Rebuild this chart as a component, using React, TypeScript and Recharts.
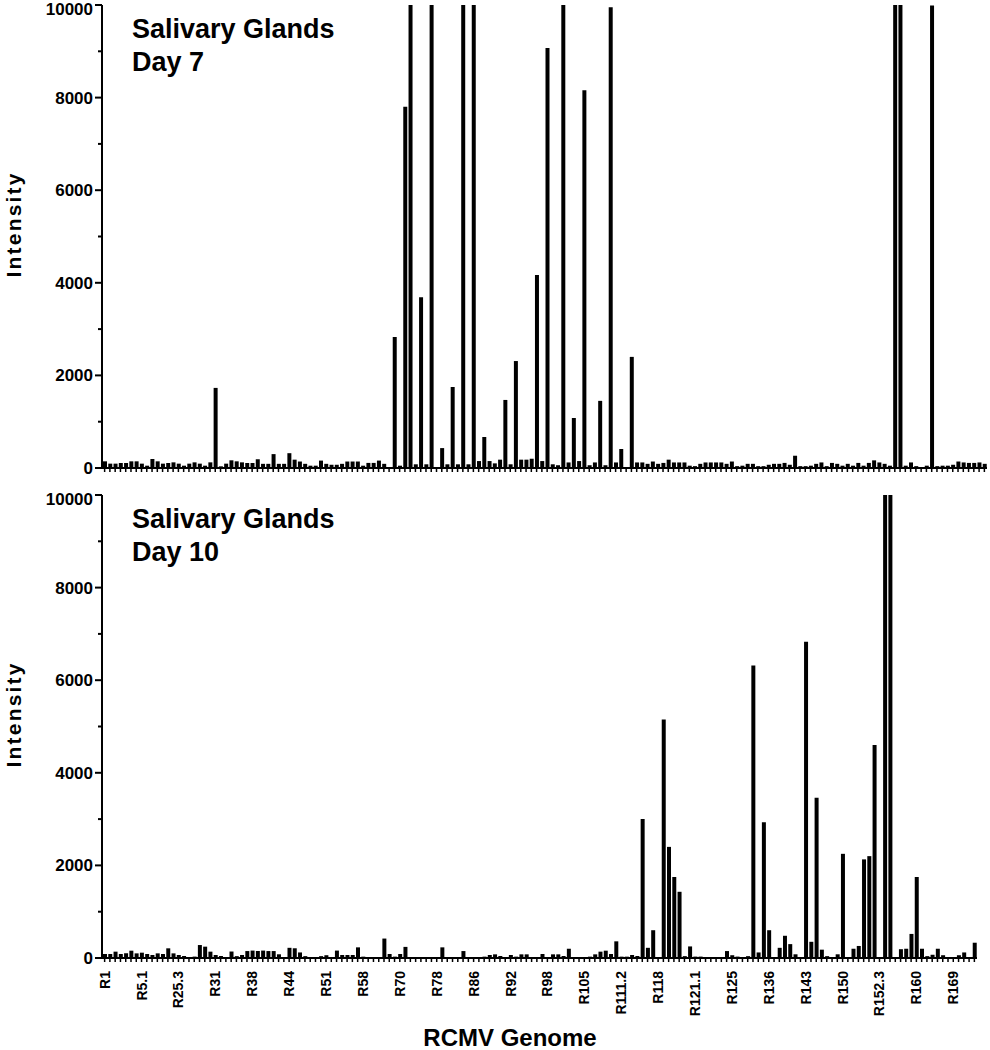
import { Bar, BarChart, XAxis, YAxis } from "recharts";

const FONT = "'Liberation Sans', Arial, Helvetica, sans-serif";

// one label every 7th ORF along the genome
const genomeLabels = [
  "R1", "R5.1", "R25.3", "R31", "R38", "R44", "R51", "R58", "R70", "R78", "R86", "R92",
  "R98", "R105", "R111.2", "R118", "R121.1", "R125", "R136", "R143", "R150", "R152.3", "R160", "R169",
];
const LABEL_STEP = 7;

const yTicks = [0, 1000, 2000, 3000, 4000, 5000, 6000, 7000, 8000, 9000, 10000];

const day7 = [
  144, 94, 94, 108, 108, 144, 144, 94, 50, 195,
  144, 94, 108, 122, 94, 50, 94, 122, 94, 50,
  122, 1730, 36, 94, 166, 144, 122, 108, 108, 190,
  90, 90, 300, 90, 90, 320, 180, 140, 90, 50,
  50, 160, 90, 70, 70, 90, 140, 140, 140, 50,
  110, 110, 160, 90, 20, 2830, 50, 7800, 10000, 80,
  3690, 80, 10000, 20, 430, 80, 1750, 80, 10000, 80,
  10000, 150, 670, 150, 100, 180, 1470, 80, 2310, 180,
  180, 200, 4170, 150, 9070, 80, 60, 10000, 120, 1080,
  150, 8160, 60, 120, 1450, 60, 9950, 120, 410, -100,
  2400, 120, 120, 90, 140, 90, 110, 180, 120, 120,
  120, 50, 40, 90, 120, 120, 120, 120, 90, 140,
  40, 50, 90, 90, 40, 40, 70, 90, 90, 110,
  70, 265, 40, 40, 50, 90, 120, 40, 110, 90,
  50, 90, 50, 110, 50, 110, 165, 120, 90, 50,
  10000, 10000, 50, 120, 40, 10, 50, 9990, 40, 50,
  50, 70, 140, 120, 110, 110, 120, 90,
];

const day10 = [
  86, 86, 137, 86, 100, 158, 100, 115, 86, 65,
  100, 86, 209, 100, 65, 43, 15, 30, 280, 245,
  137, 65, 43, 15, 140, 40, 65, 150, 160, 150,
  160, 150, 150, 80, 20, 220, 210, 120, 40, 10,
  20, 40, 60, 20, 160, 65, 65, 65, 230, 29,
  0, 14, 0, 420, 86, 29, 86, 240, 14, 0,
  0, 0, 0, 0, 230, 14, 0, 0, 150, 14,
  0, 14, 29, 65, 79, 43, 0, 65, 29, 79,
  79, 0, 0, 86, 0, 79, 79, 43, 200, 0,
  0, 14, 29, 79, 137, 158, 86, 360, 29, 29,
  65, 43, 3000, 220, 600, 10, 5150, 2400, 1750, 1430,
  40, 250, 30, 30, 5, 5, 5, 5, 150, 60,
  30, 20, 40, 6320, 120, 2930, 600, 10, 220, 480,
  300, 80, 0, 6830, 350, 3460, 180, 40, 20, 80,
  2250, 0, 200, 260, 2130, 2200, 4600, 0, 10000, 10000,
  0, 190, 200, 520, 1750, 200, 40, 70, 200, 60,
  0, 0, 60, 120, 0, 330,
];

const toRows = (values: number[]) => values.map((v, i) => ({ i, v }));

function YTick({ x, y, payload }: any) {
  const v = payload.value as number;
  const major = v % 2000 === 0;
  return (
    <g>
      <line x1={x - (major ? 7 : 4)} x2={x} y1={y} y2={y} stroke="#000" strokeWidth={2} />
      {major && (
        <text
          x={x - 9}
          y={y}
          dy={v === 10000 ? 10 : 6}
          textAnchor="end"
          fontSize={17}
          fontWeight="bold"
          fill="#000"
          fontFamily={FONT}
        >
          {v}
        </text>
      )}
    </g>
  );
}

const makeXTick = (showLabels: boolean) =>
  function XTick({ x, y, payload }: any) {
    const i = Number(payload.value);
    const label = i % LABEL_STEP === 0 ? genomeLabels[i / LABEL_STEP] : null;
    return (
      <g>
        <line x1={x} x2={x} y1={y} y2={y + 4} stroke="#000" strokeWidth={1.5} />
        {showLabels && label && (
          <text
            transform={`translate(${x},${y + 13}) rotate(-90)`}
            textAnchor="end"
            dominantBaseline="central"
            fontSize={14}
            fontWeight="bold"
            fill="#000"
            fontFamily={FONT}
          >
            {label}
          </text>
        )}
      </g>
    );
  };

function Panel({
  values,
  rightGap,
  height,
  xHeight,
  showLabels,
}: {
  values: number[];
  rightGap: number;
  height: number;
  xHeight: number;
  showLabels: boolean;
}) {
  return (
    <BarChart
      width={990}
      height={height}
      data={toRows(values)}
      margin={{ top: 5, right: rightGap, left: 0, bottom: 0 }}
      barSize={4}
    >
      <XAxis
        dataKey="i"
        type="category"
        interval={0}
        height={xHeight}
        tickSize={0}
        tickMargin={0}
        tickLine={false}
        axisLine={{ stroke: "#000", strokeWidth: 2 }}
        tick={makeXTick(showLabels)}
      />
      <YAxis
        type="number"
        domain={[0, 10000]}
        allowDataOverflow
        ticks={yTicks}
        interval={0}
        width={102}
        tickSize={0}
        tickMargin={0}
        tickLine={false}
        axisLine={{ stroke: "#000", strokeWidth: 2 }}
        tick={YTick}
        label={{
          content: ({ viewBox }: any) => (
            <text
              transform={`translate(21,${viewBox.y + viewBox.height / 2 - 11}) rotate(-90)`}
              textAnchor="middle"
              fontSize={21}
              fontWeight="bold"
              fill="#000"
              fontFamily={FONT}
              textLength={104}
              lengthAdjust="spacing"
            >
              Intensity
            </text>
          ),
        }}
      />
      <Bar dataKey="v" fill="#000" isAnimationActive={false} />
    </BarChart>
  );
}

const titleStyle = { fontFamily: FONT, fontWeight: "bold" as const, fontSize: 27, fill: "#000" };

export default function App() {
  return (
    <div style={{ position: "absolute", left: 0, top: 0, width: 990, height: 1050, background: "#fff" }}>
      <div style={{ position: "absolute", left: 0, top: 0 }}>
        <Panel values={day7} rightGap={3} height={480} xHeight={12} showLabels={false} />
      </div>
      <div style={{ position: "absolute", left: 0, top: 490 }}>
        <Panel values={day10} rightGap={13} height={560} xHeight={92} showLabels />
      </div>
      <svg width={990} height={1050} style={{ position: "absolute", left: 0, top: 0, pointerEvents: "none" }}>
        <text x={132} y={38} {...titleStyle}>Salivary Glands</text>
        <text x={132} y={71} {...titleStyle}>Day 7</text>
        <text x={132} y={528} {...titleStyle}>Salivary Glands</text>
        <text x={132} y={561} {...titleStyle}>Day 10</text>
        <text x={510} y={1046} textAnchor="middle" fontFamily={FONT} fontWeight="bold" fontSize={24} fill="#000">
          RCMV Genome
        </text>
      </svg>
    </div>
  );
}
